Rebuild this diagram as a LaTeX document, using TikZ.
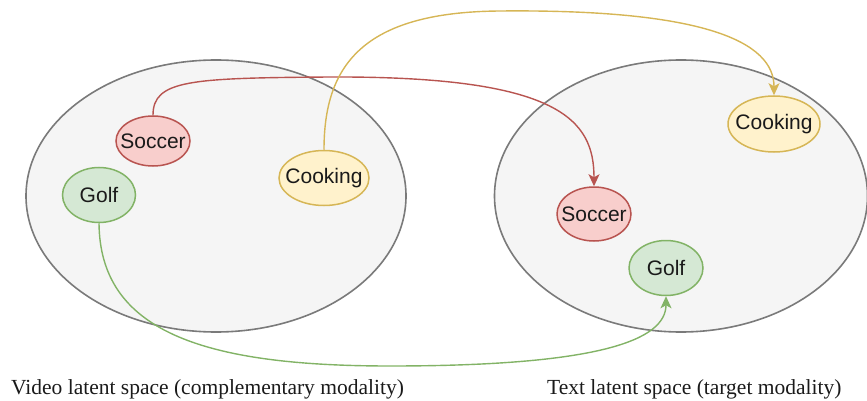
\documentclass[tikz,border=0pt]{standalone}
\usepackage{fontspec}
\setmainfont{Liberation Serif}
\newfontfamily\nodefont{Liberation Sans}
\usetikzlibrary{shapes.geometric,arrows.meta}

\definecolor{spacefill}{HTML}{F5F5F5}
\definecolor{spaceline}{HTML}{7A7A7A}
\definecolor{redfill}{HTML}{F8CECC}
\definecolor{redline}{HTML}{B85450}
\definecolor{yelfill}{HTML}{FFF2CC}
\definecolor{yelline}{HTML}{D6B656}
\definecolor{grnfill}{HTML}{D5E8D4}
\definecolor{grnline}{HTML}{82B366}
\definecolor{inktext}{HTML}{1A1A1A}

% label box of zero width, so the ellipse size comes from minimum width/height
\newcommand\flatlabel[1]{\makebox[0pt]{#1}}

\tikzset{
  space/.style={ellipse, draw=spaceline, fill=spacefill, line width=1.6pt, inner sep=0pt},
  concept/.style={ellipse, line width=1.5pt, inner sep=0pt,
    font=\nodefont\fontsize{21}{24}\selectfont, text=inktext},
  soccerbox/.style={concept, draw=redline, fill=redfill},
  cookbox/.style={concept, draw=yelline, fill=yelfill},
  golfbox/.style={concept, draw=grnline, fill=grnfill},
  link/.style={line width=1.4pt, -{Stealth[length=12pt,width=11pt,inset=3pt]}},
  caption/.style={anchor=base west, inner sep=0pt, text=inktext,
    font=\fontsize{21.5}{25}\selectfont},
}

\begin{document}
\begin{tikzpicture}[x=1pt,y=-1pt]
  \useasboundingbox (0,0) rectangle (867,401);

  % the two latent spaces
  \node[space, minimum width=380pt, minimum height=272pt] (video) at (216,196) {};
  \node[space, minimum width=373pt, minimum height=272pt] (text) at (681,196) {};

  % concepts in the video space
  \node[soccerbox, minimum width=74pt, minimum height=50pt] (sl) at (153,141) {\flatlabel{Soccer}};
  \node[cookbox, minimum width=90pt, minimum height=55pt] (cl) at (324,178) {\flatlabel{Cooking}};
  \node[golfbox, minimum width=73pt, minimum height=55pt] (gl) at (99,195) {\flatlabel{Golf}};

  % concepts in the text space
  \node[cookbox, minimum width=92pt, minimum height=56pt] (cr) at (774,124) {\flatlabel{Cooking}};
  \node[soccerbox, minimum width=74pt, minimum height=54pt] (sr) at (594,214) {\flatlabel{Soccer}};
  \node[golfbox, minimum width=74pt, minimum height=55pt] (gr) at (666,268) {\flatlabel{Golf}};

  % alignment connectors
  \draw[link, draw=redline] (sl.north)
    .. controls (153,80) and (190,78) .. (330,77)
    .. controls (560,76) and (594,120) .. (sr.north);
  \draw[link, draw=yelline] (cl.north)
    .. controls (324,66) and (362,12) .. (500,11)
    .. controls (705,9) and (774,42) .. (cr.north);
  \draw[link, draw=grnline] (gl.south)
    .. controls (100,330) and (200,366) .. (390,366)
    .. controls (600,366) and (666,340) .. (gr.south);

  % captions
  \node[caption] (vcap) at (11,394) {Video latent space (complementary modality)};
  \node[caption] (tcap) at (547,394) {Text latent space (target modality)};
\end{tikzpicture}
\end{document}
